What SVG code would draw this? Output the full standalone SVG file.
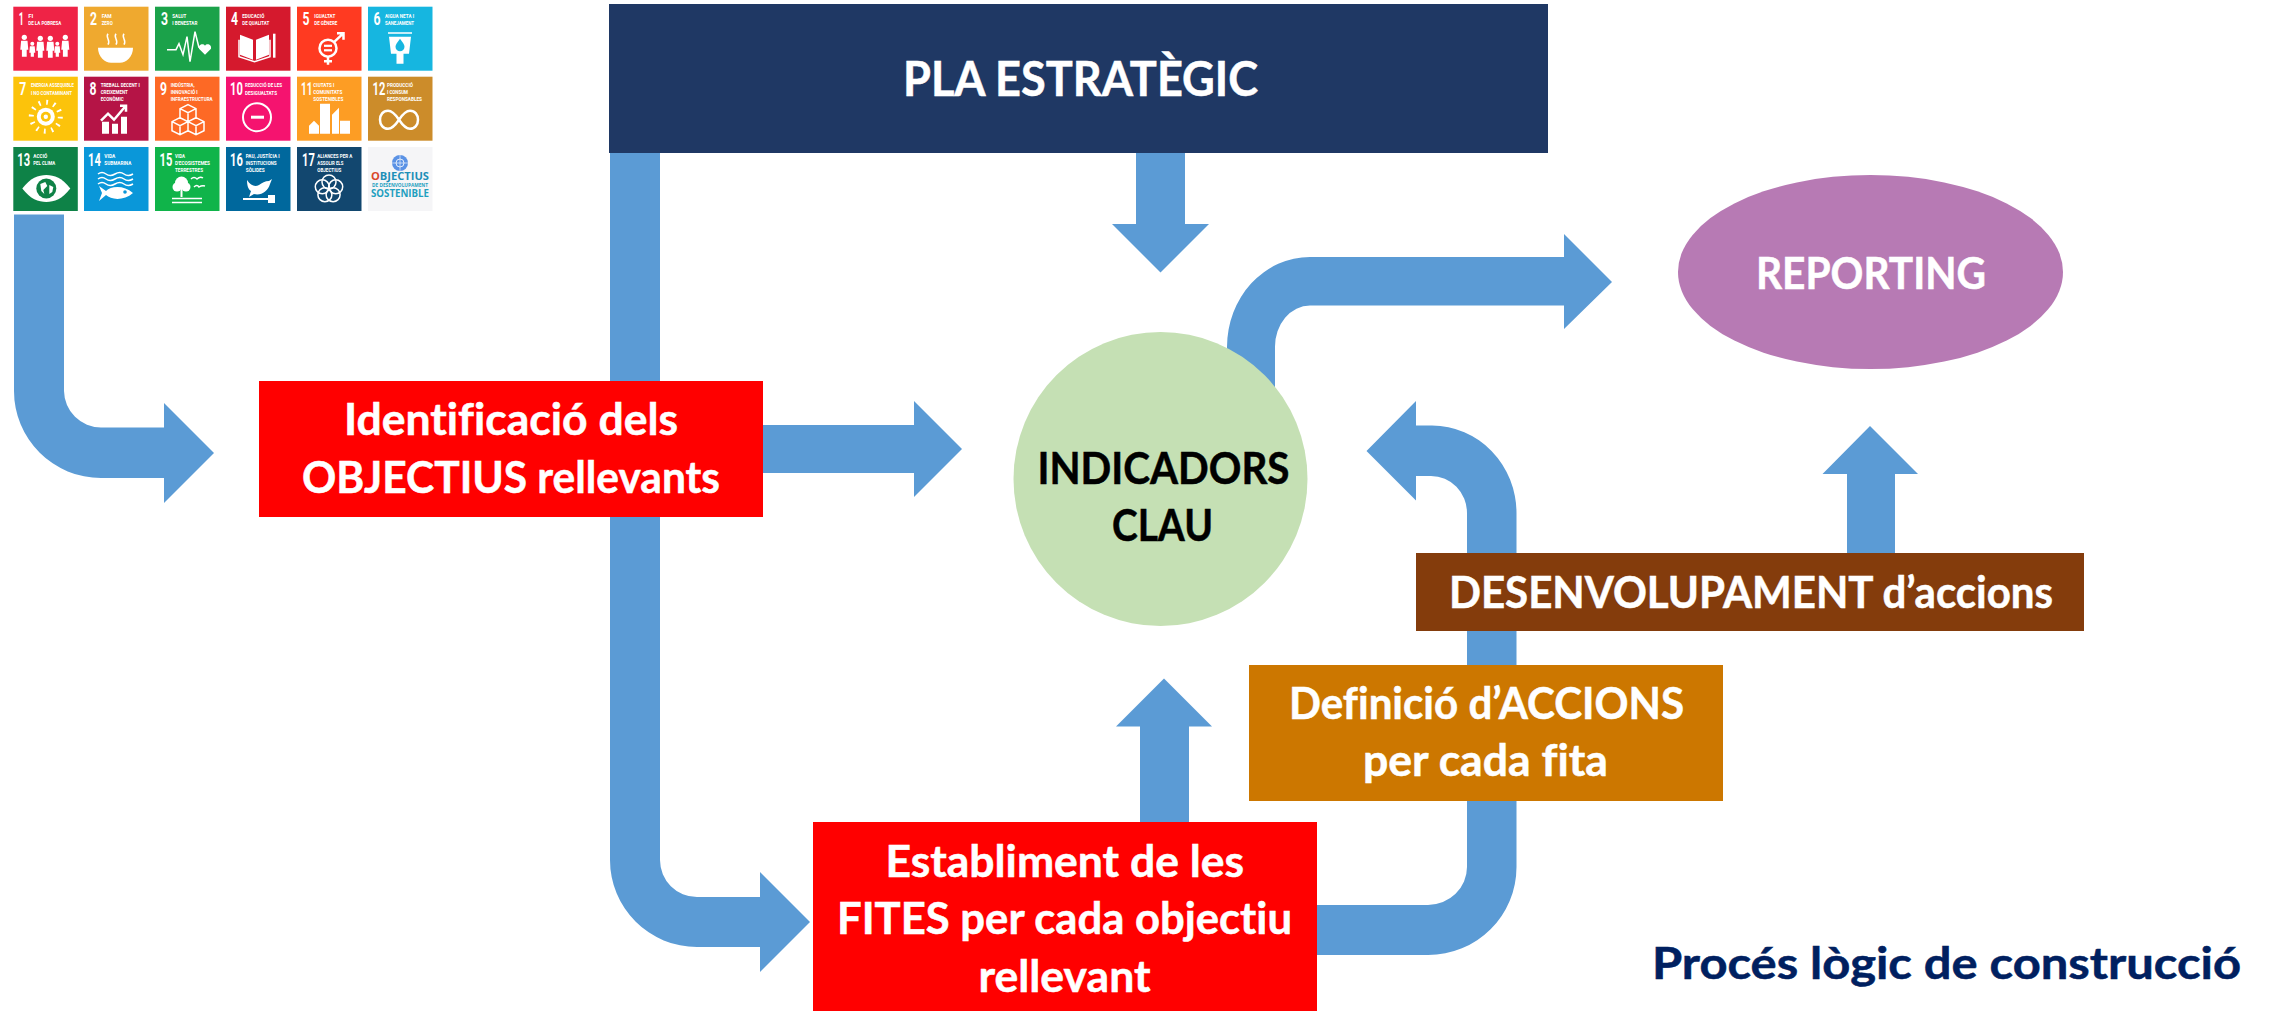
<svg xmlns="http://www.w3.org/2000/svg" width="2274" height="1011" viewBox="0 0 2274 1011">
<style>
text{font-variant-ligatures:none}
.lbl{font-family:"Lato","Carlito","Liberation Sans",sans-serif;font-weight:700;font-size:43px;fill:#fff;stroke:#fff;stroke-width:.5px}
.dark{fill:#000;stroke:#000}
.navy{fill:#002060;stroke:#002060}
.c{fill:#5B9BD5;stroke:none}
.n{font-family:"Roboto","Liberation Sans",sans-serif;font-weight:700;font-size:18px;fill:#fff}
.m{font-family:"Roboto","Liberation Sans",sans-serif;font-weight:700;font-size:5.4px;fill:#fff}
.w{fill:#fff}
.s{fill:none;stroke:#fff;stroke-width:1.5}
.s2{fill:none;stroke:#fff;stroke-width:2.5}
.o{font-family:"Open Sans","Liberation Sans",sans-serif;font-weight:700;fill:#1E8FB8}
</style>
<defs>
<rect id="t" width="64.5" height="64"/>
<g id="adult"><circle cx="0" cy="2.6" r="2.6" class="w"/><path class="w" d="M-3.2 6H3.2L4 15H2.4V22H-2.4V15H-4Z"/></g>
<g id="child"><circle cx="0" cy="2" r="2" class="w"/><path class="w" d="M-2.4 4.6H2.4L3 11H1.6V15H-1.6V11H-3Z"/></g>
</defs>

<g id="connectors">
<path class="c" d="M14 214.500V391A87 87 0 0 0 101 478H164V503L214 453L164 403V427.500H101A37 37 0 0 1 64 391V214.500Z"/>
<path class="c" d="M610 153V860A87 87 0 0 0 697 947H760V972L810 922L760 872V897H697A37 37 0 0 1 660 860V153Z"/>
<path class="c" d="M1136 153V224H1112L1160.500 272.500L1209 224H1185V153Z"/>
<path class="c" d="M763 425H914V401L962 449L914 497V473H763Z"/>
<path class="c" d="M1227 420V347A83 90 0 0 1 1310 257H1564V234L1612 282L1564 329V305.500H1310A35 41 0 0 0 1275 347V420Z"/>
<path class="c" d="M1310 905H1428A39 38 0 0 0 1467 867V513A36 37 0 0 0 1431 476H1416V500.500L1366.500 451L1416 401V425.500H1432A84.500 87.500 0 0 1 1516.500 513V867A88.500 88 0 0 1 1428 955H1310Z"/>
<path class="c" d="M1140 830V726.500H1116L1164 678.500L1212 726.500H1189V830Z"/>
<path class="c" d="M1847 555V474H1822.500L1870 426L1918 474H1895V555Z"/>
</g>

<g id="node-pla">
<rect x="609" y="4" width="939" height="149" fill="#1F3864"/>
<text class="lbl" x="903" y="96" style="font-size:47px" textLength="355" lengthAdjust="spacingAndGlyphs">PLA ESTRATÈGIC</text>
</g>
<g id="node-identificacio">
<rect x="259" y="381" width="504" height="136" fill="#FF0000"/>
<text class="lbl" x="344" y="435" textLength="334" lengthAdjust="spacingAndGlyphs">Identificació dels</text>
<text class="lbl" x="302" y="493" textLength="418" lengthAdjust="spacingAndGlyphs">OBJECTIUS rellevants</text>
</g>
<g id="node-indicadors">
<ellipse cx="1160.500" cy="479" rx="147" ry="147" fill="#C5E0B4"/>
<text class="lbl dark" x="1037.500" y="484" textLength="252" lengthAdjust="spacingAndGlyphs">INDICADORS</text>
<text class="lbl dark" x="1112" y="541" textLength="101" lengthAdjust="spacingAndGlyphs">CLAU</text>
</g>
<g id="node-reporting">
<ellipse cx="1870.500" cy="272" rx="192.500" ry="97" fill="#B77AB4"/>
<text class="lbl" x="1756" y="289" textLength="230" lengthAdjust="spacingAndGlyphs">REPORTING</text>
</g>
<g id="node-desenvolupament">
<rect x="1416" y="553" width="668" height="78" fill="#843C0C"/>
<text class="lbl" x="1449" y="608" textLength="604" lengthAdjust="spacingAndGlyphs">DESENVOLUPAMENT d’accions</text>
</g>
<g id="node-definicio">
<rect x="1249" y="665" width="474" height="136" fill="#CC7700"/>
<text class="lbl" x="1289" y="719" textLength="395" lengthAdjust="spacingAndGlyphs">Definició d’ACCIONS</text>
<text class="lbl" x="1363" y="776" textLength="245" lengthAdjust="spacingAndGlyphs">per cada fita</text>
</g>
<g id="node-establiment">
<rect x="813" y="822" width="504" height="189" fill="#FF0000"/>
<text class="lbl" x="885.500" y="877" textLength="358.500" lengthAdjust="spacingAndGlyphs">Establiment de les</text>
<text class="lbl" x="837" y="934" textLength="455" lengthAdjust="spacingAndGlyphs">FITES per cada objectiu</text>
<text class="lbl" x="978.500" y="992" textLength="172" lengthAdjust="spacingAndGlyphs">rellevant</text>
</g>
<g id="title">
<text class="lbl navy" x="1652" y="979" textLength="589" lengthAdjust="spacingAndGlyphs">Procés lògic de construcció</text>
</g>

<g id="sdg">
<g id="sdg-1" transform="translate(13.300 6.700)"><use href="#t" fill="#EF2346"/><text class="n" x="5.500" y="18.500" textLength="5" lengthAdjust="spacingAndGlyphs">1</text><text class="m" x="15" y="11" textLength="5" lengthAdjust="spacingAndGlyphs">FI</text><text class="m" x="15" y="18" textLength="33" lengthAdjust="spacingAndGlyphs">DE LA POBRESA</text>
<use href="#adult" x="11" y="28"/><use href="#child" x="19" y="35"/><use href="#adult" x="27" y="29"/><use href="#adult" x="37" y="29"/><use href="#child" x="44" y="35"/><use href="#adult" x="52" y="28"/></g>

<g id="sdg-2" transform="translate(84 6.700)"><use href="#t" fill="#EFA92F"/><text class="n" x="6" y="18.500" textLength="7" lengthAdjust="spacingAndGlyphs">2</text><text class="m" x="17.700" y="11" textLength="10" lengthAdjust="spacingAndGlyphs">FAM</text><text class="m" x="17.700" y="18" textLength="11" lengthAdjust="spacingAndGlyphs">ZERO</text>
<path class="w" d="M14 41H49C49 50 42 56 36 56H27C21 56 14 50 14 41Z"/><path class="s" d="M24 27C21 31 27 33 24 38M32 27C29 31 35 33 32 38M40 27C37 31 43 33 40 38"/></g>

<g id="sdg-3" transform="translate(155 6.700)"><use href="#t" fill="#1BA24A"/><text class="n" x="6" y="18.500" textLength="7" lengthAdjust="spacingAndGlyphs">3</text><text class="m" x="17.300" y="11" textLength="14" lengthAdjust="spacingAndGlyphs">SALUT</text><text class="m" x="17.300" y="18" textLength="25" lengthAdjust="spacingAndGlyphs">I BENESTAR</text>
<path class="s" d="M12 43H21L24 37L28 48L32 30L35 55L40 25L44 41"/><path class="w" d="M50 48L44 42C43 38 48 36 50 39C52 36 57 38 56 42Z"/></g>

<g id="sdg-4" transform="translate(226 6.700)"><use href="#t" fill="#D5192D"/><text class="n" x="5" y="18.500" textLength="7" lengthAdjust="spacingAndGlyphs">4</text><text class="m" x="16.300" y="11" textLength="22" lengthAdjust="spacingAndGlyphs">EDUCACIÓ</text><text class="m" x="16.300" y="18" textLength="27" lengthAdjust="spacingAndGlyphs">DE QUALITAT</text>
<path class="w" d="M14 28L27 33V53L14 48ZM43 28L30 33V53L43 48Z"/><path class="s" d="M13 33V50L28.500 55L44 50V33"/><rect class="w" x="47" y="27" width="2.500" height="24"/></g>

<g id="sdg-5" transform="translate(297 6.700)"><use href="#t" fill="#FF3A21"/><text class="n" x="5.500" y="18.500" textLength="7" lengthAdjust="spacingAndGlyphs">5</text><text class="m" x="17.300" y="11" textLength="21" lengthAdjust="spacingAndGlyphs">IGUALTAT</text><text class="m" x="17.300" y="18" textLength="23" lengthAdjust="spacingAndGlyphs">DE GÈNERE</text>
<circle class="s2" cx="31" cy="41.500" r="8.500"/><rect class="w" x="27" y="38" width="8" height="2.200"/><rect class="w" x="27" y="42.500" width="8" height="2.200"/><path class="s2" d="M37 35.500L46 27M40 26.500H46.500V33M31 50V58M27 54.500H35"/></g>

<g id="sdg-6" transform="translate(368 6.700)"><use href="#t" fill="#16B6E0"/><text class="n" x="5.500" y="18.500" textLength="7" lengthAdjust="spacingAndGlyphs">6</text><text class="m" x="17" y="11" textLength="29" lengthAdjust="spacingAndGlyphs">AIGUA NETA I</text><text class="m" x="17" y="18" textLength="29" lengthAdjust="spacingAndGlyphs">SANEJAMENT</text>
<path class="w" d="M20 25.500H44V27H20ZM21 30H43L41 47H35.500V57H28.500V47H23Z"/><path fill="#16B6E0" d="M32 32C29 36 27.500 38 27.500 40A4.500 4.500 0 0 0 36.500 40C36.500 38 35 36 32 32Z"/></g>

<g id="sdg-7" transform="translate(13.300 76.700)"><use href="#t" fill="#FCC30B"/><text class="n" x="6" y="18.500" textLength="7" lengthAdjust="spacingAndGlyphs">7</text><text class="m" x="17.600" y="10.500" textLength="43" lengthAdjust="spacingAndGlyphs">ENERGIA ASSEQUIBLE</text><text class="m" x="17.600" y="18" textLength="41" lengthAdjust="spacingAndGlyphs">I NO CONTAMINANT</text>
<circle cx="32.500" cy="40" r="9" fill="#fff"/><circle cx="32.500" cy="40" r="5" fill="#FCC30B"/><circle cx="32.500" cy="40" r="2.200" fill="#fff"/><circle cx="32.500" cy="40" r="14.500" fill="none" stroke="#fff" stroke-width="5" stroke-dasharray="1.800 5.790"/></g>

<g id="sdg-8" transform="translate(84 76.700)"><use href="#t" fill="#B51446"/><text class="n" x="5.500" y="18.500" textLength="7" lengthAdjust="spacingAndGlyphs">8</text><text class="m" x="16.700" y="10.500" textLength="39" lengthAdjust="spacingAndGlyphs">TREBALL DECENT I</text><text class="m" x="16.700" y="17.500" textLength="27" lengthAdjust="spacingAndGlyphs">CREIXEMENT</text><text class="m" x="16.700" y="24.500" textLength="23" lengthAdjust="spacingAndGlyphs">ECONÒMIC</text>
<path class="w" d="M18 45H25V57H18ZM28 47H34V57H28ZM37 40H43V57H37Z"/><path class="s2" d="M17 44L24 37L30 43L41 30M36 29H42V35"/></g>

<g id="sdg-9" transform="translate(155 76.700)"><use href="#t" fill="#FD6925"/><text class="n" x="5" y="18.500" textLength="7" lengthAdjust="spacingAndGlyphs">9</text><text class="m" x="15.700" y="10.500" textLength="24" lengthAdjust="spacingAndGlyphs">INDÚSTRIA,</text><text class="m" x="15.700" y="17.500" textLength="27" lengthAdjust="spacingAndGlyphs">INNOVACIÓ I</text><text class="m" x="15.700" y="24.500" textLength="42" lengthAdjust="spacingAndGlyphs">INFRAESTRUCTURA</text>
<path class="s" d="M33 28L41 32V41L33 45L25 41V32ZM25 32L33 36L41 32M33 36V45M25 41L33 45V54L25 58L17 54V45ZM17 45L25 49L33 45M25 49V58M41 41L49 45V54L41 58L33 54V45ZM33 45L41 49L49 45M41 49V58"/></g>

<g id="sdg-10" transform="translate(226 76.700)"><use href="#t" fill="#F5136F"/><text class="n" transform="translate(4 18.500) scale(.62 1)">10</text><text class="m" x="19" y="10.500" textLength="37" lengthAdjust="spacingAndGlyphs">REDUCCIÓ DE LES</text><text class="m" x="19" y="18" textLength="32" lengthAdjust="spacingAndGlyphs">DESIGUALTATS</text>
<circle class="s" style="stroke-width:2" cx="31" cy="40.500" r="14"/><rect class="w" x="25" y="39" width="13" height="3"/></g>

<g id="sdg-11" transform="translate(297 76.700)"><use href="#t" fill="#FD9D24"/><text class="n" transform="translate(4 18.500) scale(.55 1)">11</text><text class="m" x="16.300" y="10.500" textLength="21" lengthAdjust="spacingAndGlyphs">CIUTATS I</text><text class="m" x="16.300" y="17.500" textLength="29" lengthAdjust="spacingAndGlyphs">COMUNITATS</text><text class="m" x="16.300" y="24.500" textLength="30" lengthAdjust="spacingAndGlyphs">SOSTENIBLES</text>
<path class="w" d="M12 49L17 44L22 49V57H12ZM23 27H33V57H23ZM35 57V38L42 31V57ZM43 44H53V57H43Z"/></g>

<g id="sdg-12" transform="translate(368 76.700)"><use href="#t" fill="#CC8C2A"/><text class="n" transform="translate(4.500 18.500) scale(.62 1)">12</text><text class="m" x="19" y="10.500" textLength="26" lengthAdjust="spacingAndGlyphs">PRODUCCIÓ</text><text class="m" x="19" y="17.500" textLength="21" lengthAdjust="spacingAndGlyphs">I CONSUM</text><text class="m" x="19" y="24.500" textLength="35" lengthAdjust="spacingAndGlyphs">RESPONSABLES</text>
<path class="s2" d="M31 43C27 37 24 34 20 34C15 34 12 38 12 43C12 48 15 52 20 52C24 52 27 49 31 43C35 37 38 34 42 34C47 34 50 38 50 43C50 48 47 52 42 52C38 52 35 49 31 43Z"/></g>

<g id="sdg-13" transform="translate(13.300 147)"><use href="#t" fill="#0E8247"/><text class="n" transform="translate(4 18.500) scale(.62 1)">13</text><text class="m" x="20" y="10.500" textLength="14" lengthAdjust="spacingAndGlyphs">ACCIÓ</text><text class="m" x="20" y="18" textLength="22" lengthAdjust="spacingAndGlyphs">PEL CLIMA</text>
<path class="w" d="M9 41.500C17 31 25 28 33 28C41 28 49 31 57 41.500C49 52 41 55 33 55C25 55 17 52 9 41.500Z"/><circle cx="33" cy="41.500" r="10" fill="#0E8247"/><path class="w" d="M27 37L32 35L34 39L30 43L31 47L28 44ZM36 38L40 40L39 45L36 47Z"/></g>

<g id="sdg-14" transform="translate(84 147)"><use href="#t" fill="#0A97D9"/><text class="n" transform="translate(4 18.500) scale(.62 1)">14</text><text class="m" x="20.300" y="10.500" textLength="11" lengthAdjust="spacingAndGlyphs">VIDA</text><text class="m" x="20.300" y="18" textLength="27" lengthAdjust="spacingAndGlyphs">SUBMARINA</text>
<path class="s" d="M14 27Q18 24 22 27T31 27T40 27T49 27M14 32Q18 29 22 32T31 32T40 32T49 32M14 37Q18 34 22 37T31 37T40 37T49 37"/><path class="w" d="M15 39L22 44C27 39 40 38 49 46C40 54 27 53 22 48L15 54L18 46Z"/><circle cx="41" cy="45" r="1.800" fill="#0A97D9"/></g>

<g id="sdg-15" transform="translate(155 147)"><use href="#t" fill="#10B44A"/><text class="n" transform="translate(4.500 18.500) scale(.62 1)">15</text><text class="m" x="20" y="10.500" textLength="10" lengthAdjust="spacingAndGlyphs">VIDA</text><text class="m" x="20" y="17.500" textLength="35" lengthAdjust="spacingAndGlyphs">D'ECOSISTEMES</text><text class="m" x="20" y="24.500" textLength="28" lengthAdjust="spacingAndGlyphs">TERRESTRES</text>
<circle class="w" cx="26.500" cy="36" r="6.500"/><circle class="w" cx="22" cy="40" r="4.500"/><circle class="w" cx="31" cy="40" r="4.500"/><rect class="w" x="25.500" y="42" width="2" height="8"/><path class="s" d="M36 32Q39 29 42 32Q45 29 48 31M39 40Q42 37 44 40Q47 38 50 39"/><path class="s" d="M17 51.500H47M17 55.500H47"/></g>

<g id="sdg-16" transform="translate(226 147)"><use href="#t" fill="#00689D"/><text class="n" transform="translate(4 18.500) scale(.62 1)">16</text><text class="m" x="19.700" y="10.500" textLength="34" lengthAdjust="spacingAndGlyphs">PAU, JUSTÍCIA I</text><text class="m" x="19.700" y="17.500" textLength="31" lengthAdjust="spacingAndGlyphs">INSTITUCIONS</text><text class="m" x="19.700" y="24.500" textLength="19" lengthAdjust="spacingAndGlyphs">SÒLIDES</text>
<path class="w" d="M21 33C25 39 29 40 33 38C36 36 39 34 43 34L46 32L44 37C42 44 35 49 28 47L23 50L25 44C22 42 21 38 21 33Z"/><rect class="w" x="17" y="51" width="30" height="2"/><rect class="w" x="42" y="48" width="7" height="8"/></g>

<g id="sdg-17" transform="translate(297 147)"><use href="#t" fill="#12476F"/><text class="n" transform="translate(5 18.500) scale(.62 1)">17</text><text class="m" x="20.300" y="10.500" textLength="35" lengthAdjust="spacingAndGlyphs">ALIANCES PER A</text><text class="m" x="20.300" y="17.500" textLength="26" lengthAdjust="spacingAndGlyphs">ASSOLIR ELS</text><text class="m" x="20.300" y="24.500" textLength="24" lengthAdjust="spacingAndGlyphs">OBJECTIUS</text>
<g class="s"><circle cx="32" cy="35" r="7"/><circle cx="38.700" cy="39.800" r="7"/><circle cx="36.100" cy="47.700" r="7"/><circle cx="27.900" cy="47.700" r="7"/><circle cx="25.300" cy="39.800" r="7"/></g></g>

<g id="sdg-18" transform="translate(368 147)"><use href="#t" fill="#F5F5F7"/><circle cx="32" cy="16" r="8" fill="#5B92E5"/><circle cx="32" cy="16" r="4" fill="none" stroke="#fff" stroke-width="0.800"/><path d="M24 16H40M32 8V24" stroke="#fff" stroke-width="0.600"/>
<text class="o" x="3" y="33" style="font-size:10px" textLength="58" lengthAdjust="spacingAndGlyphs"><tspan fill="#D9472B">O</tspan>BJECTIUS</text><text class="o" x="4" y="39.500" style="font-size:4.500px;fill:#1E9FBF" textLength="56" lengthAdjust="spacingAndGlyphs">DE DESENVOLUPAMENT</text><text class="o" x="3" y="50" style="font-size:10px;fill:#1E9FBF" textLength="58" lengthAdjust="spacingAndGlyphs">SOSTENIBLE</text></g>
</g>
</svg>
